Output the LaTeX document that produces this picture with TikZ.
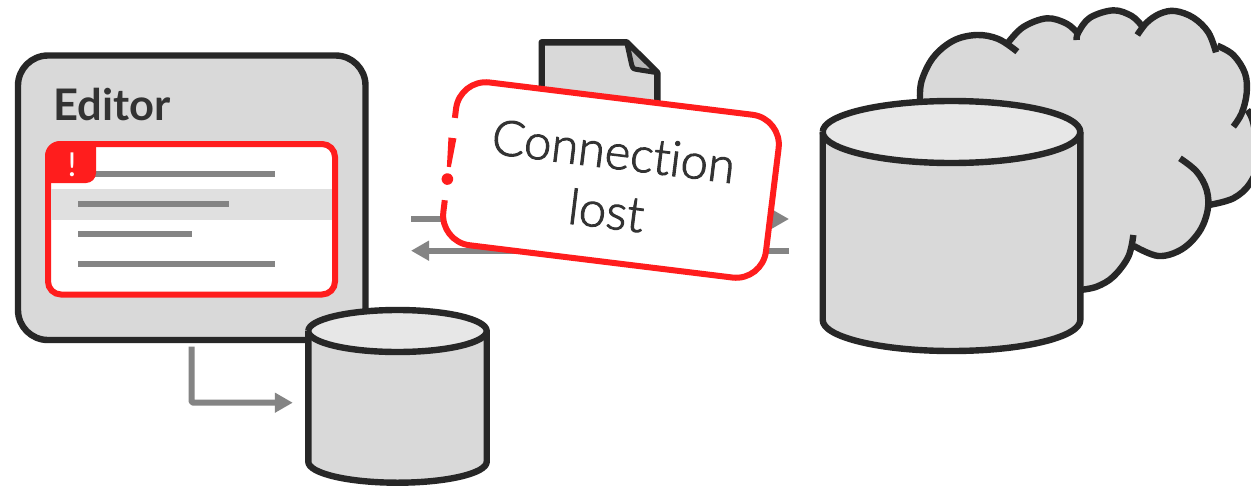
\documentclass[tikz,border=0pt]{standalone}
\usepackage{fontspec}
\setmainfont[Ligatures=NoCommon]{Lato}
\newfontfamily\lightfont[Ligatures=NoCommon,FakeBold=2]{Lato Light}
\usetikzlibrary{arrows.meta,calc}
\definecolor{ink}{HTML}{272727}
\definecolor{txt}{HTML}{333333}
\definecolor{body}{HTML}{D9D9D9}
\definecolor{lid}{HTML}{E7E7E7}
\definecolor{flowgray}{HTML}{848484}
\definecolor{alert}{HTML}{FF1D1D}
\definecolor{rowgray}{HTML}{E0E0E0}
\definecolor{foldgray}{HTML}{B8B8B8}
\tikzset{
  outline/.style={draw=ink,line width=6.4pt,line join=round},
  flow/.style={draw=flowgray,line width=6pt,line join=round,-{Triangle[length=18pt,width=19pt]}},
  textline/.style={draw=flowgray,line width=6pt},
  cloudarc/.style={draw=ink,line width=6.4pt,smooth,tension=0.6},
}
\newcommand{\drum}[6]{% left right ytop(mid) ybot(mid) rx ry
  \fill[body] (#1,#3) -- (#1,#4) arc[start angle=180,end angle=360,x radius=#5pt,y radius=#6pt] -- (#2,#3) -- cycle;
  \draw[outline] (#1,#3) -- (#1,#4) arc[start angle=180,end angle=360,x radius=#5pt,y radius=#6pt] -- (#2,#3);
  \draw[outline,fill=lid] (#1,#3) arc[start angle=180,end angle=540,x radius=#5pt,y radius=#6pt];
}
\begin{document}
\begin{tikzpicture}[x=1pt,y=-1pt]
\useasboundingbox (0,0) rectangle (1251,485);
\clip (0,0) rectangle (1251,485);
\fill[white] (0,0) rectangle (1251,485);

% cloud
\begin{scope}[shift={(810pt,0pt)},x=0.33333pt,y=-0.33333pt]
\fill[body] (330,298)--(335,242)--(370,172)--(430,122)--(500,105)--(565,117)--(595,127)--(640,81)--(710,55)--(770,71)--(805,97)--(840,53)--(910,31)--(965,48)--(995,77)--(1010,68)--(1050,41)--(1095,33)--(1150,53)--(1195,97)--(1218,137)--(1270,165)--(1305,220)--(1310,280)--(1312,330)--(1330,370)--(1345,480)--(1320,550)--(1270,595)--(1197,615)--(1193,630)--(1168,695)--(1115,748)--(1045,768)--(972,738)--(955,770)--(910,830)--(860,860)--(810,870)--(600,600)--cycle;
\draw[cloudarc] plot coordinates {(330,298)(335,242)(370,172)(430,122)(500,105)(565,117)(622,155)};
\draw[cloudarc] plot coordinates {(595,127)(640,81)(710,55)(770,71)(805,102)};
\draw[cloudarc] plot coordinates {(800,120)(805,97)(840,53)(910,31)(965,48)(995,77)};
\draw[cloudarc] plot coordinates {(982,105)(1010,68)(1050,41)(1095,33)(1150,53)(1195,97)(1218,157)};
\draw[cloudarc] plot coordinates {(1222,137)(1270,165)(1305,220)(1310,280)(1295,340)(1270,380)};
\draw[cloudarc] plot coordinates {(1312,330)(1330,370)(1345,480)(1320,550)(1270,595)(1197,615)};
\draw[cloudarc] plot coordinates {(1110,475)(1160,515)(1190,570)(1193,630)(1168,695)(1115,748)(1045,768)(972,738)};
\draw[cloudarc] plot coordinates {(970,705)(955,770)(910,830)(860,860)(810,870)};
\end{scope}

% remote database
\node[minimum width=257pt,minimum height=249pt,inner sep=0pt] (remotedb) at (951.5,225.5) {};
\drum{822.7}{1080.3}{132}{320}{128.8}{31}

% editor
\node[outline,fill=body,rounded corners=30pt,minimum width=347.5pt,minimum height=284.5pt,inner sep=0pt] (editor) at (191.75,197.75) {};
\node[anchor=base west,inner sep=0pt,text=txt,font=\fontsize{43.5}{44}\selectfont\bfseries] (editorlabel) at (53,120) {Editor};
\node[draw=alert,line width=6pt,fill=white,rounded corners=13pt,minimum width=287pt,minimum height=150.5pt,inner sep=0pt] (errorpanel) at (191.5,219.25) {};
\fill[rowgray] (51,189) rectangle (332,220);
\draw[textline] (78,173.7) -- (275,173.7);
\draw[textline] (78,203.7) -- (229,203.7);
\draw[textline] (78,234) -- (191.5,234);
\draw[textline] (78,264) -- (275,264);
\fill[alert] (45,183) -- (45,156) arc[start angle=180,end angle=90,radius=15pt] -- (96,141) -- (96,173) arc[start angle=0,end angle=-90,radius=10pt] -- cycle;
\node[anchor=center,inner sep=0pt,text=white,font=\fontsize{33}{33}\selectfont] (badgemark) at (72,164.5) {!};

% local database
\node[minimum width=178pt,minimum height=172pt,inner sep=0pt] (localdb) at (397.5,396) {};
\drum{308.3}{486.7}{331}{461.7}{89.2}{21}
\draw[flow,rounded corners=2pt] ([xshift=176.7pt,yshift=-3.5pt]editor.south west) |- ([xshift=-15.5pt,yshift=-6.7pt]localdb.west);

% document
\node[minimum width=116pt,minimum height=60pt,inner sep=0pt] (document) at (599.5,72) {};
\draw[outline,fill=body] (541.7,110) -- (541.7,42.3) -- (626.7,42.3) -- (657.3,72.7) -- (657.3,110);
\draw[draw=ink,line width=5pt,line join=round,fill=foldgray] (626.7,42.3) -- (631.7,65) .. controls (633,69) and (634,69) .. (636,69.3) -- (657.3,72.7) -- cycle;

% flows
\coordinate (outstart) at (411,219);
\coordinate (outend) at (789,219);
\coordinate (instart) at (789,250.7);
\coordinate (inend) at (411,250.7);
\draw[flow] (outstart) -- (outend);
\draw[flow] (instart) -- (inend);

% warning card
\node[rotate=-7,fill=white,rounded corners=30pt,minimum width=325pt,minimum height=164pt,inner sep=0pt] (card) at (611,180) {};
\begin{scope}[shift={(611pt,-180pt)},rotate=-7]
\draw[draw=alert,line width=6pt,line join=round] (-162.5,-42.6) -- (-162.5,-52) arc[start angle=180,end angle=90,radius=30pt] -- (132.5,-82) arc[start angle=90,end angle=0,radius=30pt] -- (162.5,52) arc[start angle=0,end angle=-90,radius=30pt] -- (-132.5,82) arc[start angle=270,end angle=180,radius=30pt] -- (-162.5,40.3);
\fill[alert] (-166.5,-22.4) -- (-158.5,-22.4) -- (-160.5,6.8) -- (-164.5,6.8) -- cycle;
\fill[alert] (-162.5,19) circle[radius=5.8pt];
\end{scope}
\node[rotate=-7,align=center,text=txt,inner sep=0pt,font=\lightfont\fontsize{49}{60}\selectfont] (cardtext) at (610,181) {Connection\\lost};
\end{tikzpicture}
\end{document}
